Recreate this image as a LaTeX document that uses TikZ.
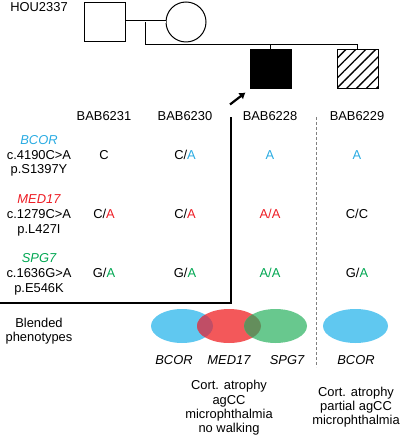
\documentclass[tikz,border=0pt]{standalone}
\usepackage{fontspec}
\setmainfont{Liberation Sans}
\usepackage{xcolor}
\usetikzlibrary{arrows.meta, positioning, calc, patterns.meta}

\definecolor{bcortext}{RGB}{41,171,226}
\definecolor{medtext}{RGB}{237,28,36}
\definecolor{spgtext}{RGB}{0,166,81}
\definecolor{bcorfill}{RGB}{96,200,240}
\definecolor{medfill}{RGB}{243,88,90}
\definecolor{spgfill}{RGB}{104,200,142}
\definecolor{mixBR}{RGB}{192,78,102}
\definecolor{mixRG}{RGB}{100,142,92}

\newcommand{\Bc}[1]{\textcolor{bcortext}{#1}}
\newcommand{\Mc}[1]{\textcolor{medtext}{#1}}
\newcommand{\Sc}[1]{\textcolor{spgtext}{#1}}

\begin{document}
\begin{tikzpicture}[
		x=1pt, y=-1pt,
		indiv/.style={
			rectangle,
			draw=black,
			line width=1pt,
			minimum width=41pt,
			minimum height=39pt,
			inner sep=0pt
		},
		lbl/.style={
			font=\fontsize{12.9}{15}\selectfont,
			anchor=base,
			inner sep=0pt
		},
		gene/.style={
			lbl,
			font=\fontsize{12.9}{15}\selectfont\itshape
		},
		kin/.style={
			line width=1pt
		},
		probarrow/.style={
			line width=2.2pt,
			-{Latex[length=6pt, width=8pt]}
		}
	]
	\useasboundingbox (0,0) rectangle (400,435);
	
	% pedigree
	\node[lbl] (fam) at (39,11.5) {HOU2337};
	\node[indiv] (dad) at (104.5,22) {};
	\node[circle, draw=black, line width=1pt, minimum size=40pt, inner sep=0pt] (mom) at (186,22) {};
	\node[indiv, fill=black] (proband) at (270.5,69.5) {};
	\node[indiv, pattern={Lines[angle=45, distance=7pt, line width=1.3pt]}] (sib) at (357.5,69.5) {};
	
	\draw[kin, double, double distance=1.4pt, line width=0.8pt] (dad.east) -- (mom.west);
	\coordinate (mate) at ($(dad.east)!0.5!(mom.west)$);
	\coordinate (sibship) at ($(mate)+(0,23)$);
	\draw[kin] (mate) -- (sibship) -| (sib.north);
	\draw[kin] (proband.north) -- (proband.north |- sibship);
	
	\coordinate (ptail) at (230,104.5);
	\draw[probarrow] (ptail) -- ($(proband.south west)+(-4,3)$);
	
	% sample columns
	\node[lbl] (s31) at (104,120.5) {BAB6231};
	\node[lbl] (s30) at (185,120.5) {BAB6230};
	\node[lbl] (s28) at (270,120.5) {BAB6228};
	\node[lbl] (s29) at (357,120.5) {BAB6229};
	
	% variants
	\node[gene, text=bcortext] (bcor) at (39,144.5) {BCOR};
	\node[lbl] (bcorc) at (39,159.5) {c.4190C>A};
	\node[lbl] (bcorp) at (39,173.5) {p.S1397Y};
	\node[gene, text=medtext] (med) at (39,203.5) {MED17};
	\node[lbl] (medc) at (39,218.5) {c.1279C>A};
	\node[lbl] (medp) at (39,233) {p.L427I};
	\node[gene, text=spgtext] (spg) at (39,262.5) {SPG7};
	\node[lbl] (spgc) at (39,277.5) {c.1636G>A};
	\node[lbl] (spgp) at (39,292) {p.E546K};
	
	% genotypes
	\node[lbl] at (104,159.5) {C};
	\node[lbl] at (185,159.5) {C/\Bc{A}};
	\node[lbl] at (270,159.5) {\Bc{A}};
	\node[lbl] at (357,159.5) {\Bc{A}};
	\node[lbl] at (104,218.5) {C/\Mc{A}};
	\node[lbl] at (185,218.5) {C/\Mc{A}};
	\node[lbl] at (270,218.5) {\Mc{A/A}};
	\node[lbl] at (357,218.5) {C/C};
	\node[lbl] at (104,277.5) {G/\Sc{A}};
	\node[lbl] at (185,277.5) {G/\Sc{A}};
	\node[lbl] at (270,277.5) {\Sc{A/A}};
	\node[lbl] at (357,277.5) {G/\Sc{A}};
	
	% separators
	\coordinate (boxleft) at (0,303);
	\coordinate (boxtop) at (231,117);
	\draw[line width=1.3pt] (boxleft) -| (boxtop);
	\coordinate (dashtop) at (316,117);
	\coordinate (dashbot) at (316,367);
	\draw[gray, line width=0.8pt, dash pattern=on 3pt off 2pt] (dashtop) -- (dashbot);
	
	% phenotypes
	\node[lbl] (blend1) at (39,327.5) {Blended};
	\node[lbl] (blend2) at (39,341.5) {phenotypes};
	
	\fill[bcorfill] (182,326) ellipse [x radius=31pt, y radius=17pt];
	\fill[medfill] (229,326) ellipse [x radius=32pt, y radius=17pt];
	\fill[spgfill] (275.5,326) ellipse [x radius=31.5pt, y radius=17pt];
	\begin{scope}
		\clip (182,326) ellipse [x radius=31pt, y radius=17pt];
		\fill[mixBR] (229,326) ellipse [x radius=32pt, y radius=17pt];
	\end{scope}
	\begin{scope}
		\clip (229,326) ellipse [x radius=32pt, y radius=17pt];
		\fill[mixRG] (275.5,326) ellipse [x radius=31.5pt, y radius=17pt];
	\end{scope}
	\fill[bcorfill] (355.5,326) ellipse [x radius=32.5pt, y radius=17pt];
	
	\node[gene] (pbcor) at (174,364.5) {BCOR};
	\node[gene] (pmed) at (229,364.5) {MED17};
	\node[gene] (pspg) at (287,364.5) {SPG7};
	\node[gene] (pbcor2) at (356,364.5) {BCOR};
	
	\node[lbl] (ph1a) at (229,389.5) {Cort. atrophy};
	\node[lbl] (ph1b) at (229,404) {agCC};
	\node[lbl] (ph1c) at (229,418.5) {microphthalmia};
	\node[lbl] (ph1d) at (229,432.5) {no walking};
	\node[lbl] (ph2a) at (356,396.5) {Cort. atrophy};
	\node[lbl] (ph2b) at (356,410.5) {partial agCC};
	\node[lbl] (ph2c) at (356,424.5) {microphthalmia};
	
\end{tikzpicture}
\end{document}
